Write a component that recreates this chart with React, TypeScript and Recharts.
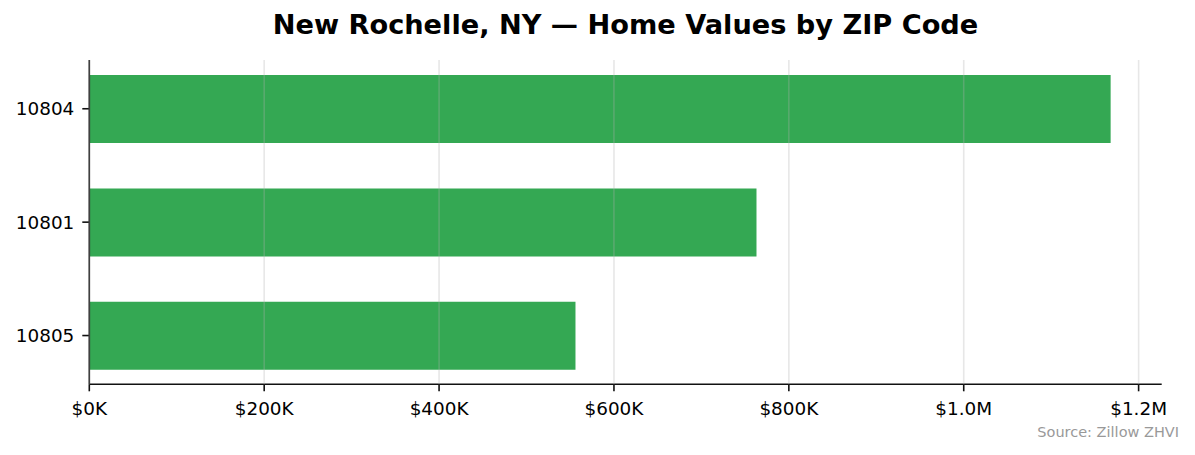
import { Bar, BarChart, CartesianGrid, XAxis, YAxis } from 'recharts';

// Zillow home value index by ZIP
const zips = ['10804', '10801', '10805'];
const values = [1168000, 763000, 556000];
const xTicks = [0, 200000, 400000, 600000, 800000, 1000000, 1200000];

const rows = zips.map((zip, i) => ({ zip, value: values[i], pos: i }));

const FONT = '"DejaVu Sans", sans-serif';
const INK = '#111';

const fmtMoney = (v: number) =>
  v >= 1000000 ? `$${(v / 1000000).toFixed(1)}M` : `$${Math.round(v / 1000)}K`;

export default function App() {
  return (
    <div style={{ position: 'absolute', left: 0, top: 0, width: 1195, height: 455, background: '#fff' }}>
      <style>{'body{margin:0}'}</style>
      <BarChart
        width={1195}
        height={455}
        data={rows}
        layout="vertical"
        margin={{ top: 60, right: 33.3, bottom: 0, left: 0 }}
        style={{ fontFamily: FONT }}
      >
        <XAxis
          type="number"
          dataKey="value"
          domain={[0, (max: number) => max * 1.05]}
          ticks={xTicks}
          tickFormatter={fmtMoney}
          height={70.7}
          tickSize={7}
          tickMargin={11}
          axisLine={{ stroke: INK, strokeWidth: 1.6 }}
          tickLine={{ stroke: INK, strokeWidth: 1.6 }}
          tick={{ fill: '#000', fontSize: 18.4, fontFamily: FONT }}
        />
        <YAxis
          type="number"
          dataKey="pos"
          domain={[-0.43, 2.43]}
          ticks={[0, 1, 2]}
          tickFormatter={(v: number) => zips[v]}
          width={89.3}
          tickSize={7}
          tickMargin={8}
          axisLine={{ stroke: INK, strokeWidth: 1.6 }}
          tickLine={{ stroke: INK, strokeWidth: 1.6 }}
          tick={{ fill: '#000', fontSize: 18.4, fontFamily: FONT }}
        />
        <Bar dataKey="value" fill="#34A853" barSize={68} isAnimationActive={false} />
        <CartesianGrid
          horizontal={false}
          syncWithTicks
          stroke="#b0b0b0"
          strokeOpacity={0.3}
          strokeWidth={1.6}
          zIndex={1000}
        />
      </BarChart>
      <svg
        width={1195}
        height={455}
        style={{ position: 'absolute', left: 0, top: 0, pointerEvents: 'none' }}
      >
        <text x={625.5} y={34.3} textAnchor="middle" fontFamily={FONT} fontWeight="bold" fontSize={27.2} fill="#000">
          New Rochelle, NY — Home Values by ZIP Code
        </text>
        <text x={1179} y={437} textAnchor="end" fontFamily={FONT} fontSize={14.5} fill="#999">
          Source: Zillow ZHVI
        </text>
      </svg>
    </div>
  );
}
